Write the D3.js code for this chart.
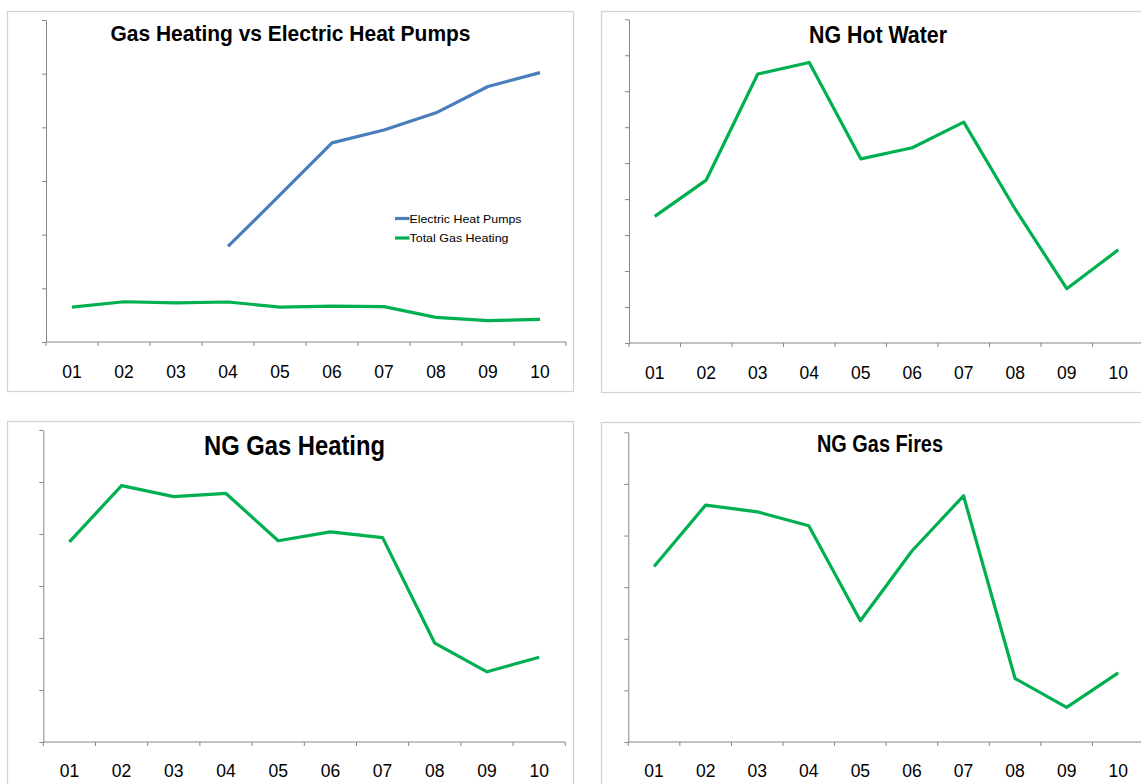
<!DOCTYPE html>
<html>
<head>
<meta charset="utf-8">
<script src="https://cdn.jsdelivr.net/npm/d3@7"></script>
<style>
  html, body { margin: 0; padding: 0; background: #ffffff; overflow: hidden; }
  svg { display: block; font-family: "Liberation Sans", Arial, Helvetica, sans-serif; }
</style>
</head>
<body>
<svg id="chart" width="1141" height="784"></svg>
<script>
// Category labels (years 2001–2010)
const years = ["01", "02", "03", "04", "05", "06", "07", "08", "09", "10"];

// Gas Heating vs Electric Heat Pumps (index units)
const heatPumps       = [null, null, null, 1.78, 2.74, 3.71, 3.95, 4.27, 4.76, 5.02];
const totalGasHeating = [0.65, 0.75, 0.73, 0.745, 0.65, 0.67, 0.66, 0.46, 0.40, 0.42];

// Natural gas end uses
const hotWater   = [3.52, 4.53, 7.48, 7.80, 5.12, 5.43, 6.14, 3.72, 1.51, 2.59];
const gasHeating = [3.85, 4.93, 4.72, 4.78, 3.87, 4.04, 3.93, 1.90, 1.35, 1.63];
const gasFires   = [3.40, 4.59, 4.46, 4.19, 2.35, 3.70, 4.77, 1.23, 0.67, 1.34];

// Legend entries for the first panel
const legendLabels = ["Electric Heat Pumps", "Total Gas Heating"];

const GREEN = "#00B050";
const BLUE = "#4A7EBB";
const AXIS = "#868686";
const FRAME = "#D4D4D4";

const svg = d3.select("#chart");

function drawPanel(cfg) {
  const g = svg.append("g");

  // chart area border
  g.append("rect")
    .attr("x", cfg.frame[0]).attr("y", cfg.frame[1])
    .attr("width", cfg.frame[2]).attr("height", cfg.frame[3])
    .attr("fill", "none").attr("stroke", FRAME).attr("stroke-width", 1.3);

  const x = d3.scaleBand().domain(years).range([cfg.left, cfg.right]).padding(0);
  const y = d3.scaleLinear().domain([0, cfg.yMax]).range([cfg.bottom, cfg.top]);

  // value axis: tick marks only
  const yAxis = g.append("g")
    .attr("transform", `translate(${cfg.left},0)`)
    .call(d3.axisLeft(y).tickValues(d3.range(0, cfg.yMax + 1)).tickSize(4).tickSizeOuter(0).tickFormat(""));
  yAxis.selectAll("path, line").attr("stroke", AXIS).attr("stroke-width", 1);

  // category axis: labels centred in each band
  const xAxis = g.append("g")
    .attr("transform", `translate(0,${cfg.bottom})`)
    .call(d3.axisBottom(x).tickSize(0).tickPadding(cfg.labelPad));
  xAxis.select(".domain").remove();
  xAxis.selectAll("text")
    .attr("fill", "#000")
    .style("font-size", "17.5px");

  // axis line plus tick marks between categories
  g.append("line")
    .attr("x1", cfg.left).attr("x2", cfg.right)
    .attr("y1", cfg.bottom).attr("y2", cfg.bottom)
    .attr("stroke", AXIS).attr("stroke-width", 1);
  g.selectAll(".cat-tick")
    .data(d3.range(years.length + 1))
    .join("line")
    .attr("x1", i => cfg.left + i * x.step())
    .attr("x2", i => cfg.left + i * x.step())
    .attr("y1", cfg.bottom).attr("y2", cfg.bottom + 4)
    .attr("stroke", AXIS).attr("stroke-width", 1);

  // series lines
  const line = d3.line()
    .defined(d => d.v !== null)
    .x(d => x(d.k) + x.bandwidth() / 2)
    .y(d => y(d.v));
  cfg.series.forEach(s => {
    g.append("path")
      .datum(years.map((k, i) => ({ k, v: s.values[i] })))
      .attr("d", line)
      .attr("fill", "none")
      .attr("stroke", s.color)
      .attr("stroke-width", 3.2)
      .attr("stroke-linejoin", "round");
  });

  // title
  g.append("text")
    .attr("x", cfg.title.x).attr("y", cfg.title.y)
    .attr("text-anchor", "middle")
    .attr("font-weight", "bold")
    .attr("font-size", cfg.title.size)
    .attr("textLength", cfg.title.len)
    .attr("lengthAdjust", "spacingAndGlyphs")
    .attr("fill", "#000")
    .text(cfg.title.text);

  return { g, x, y };
}

// Top left: gas heating against electric heat pumps
const p1 = drawPanel({
  frame: [7.5, 11.5, 566, 380],
  left: 46, right: 566, top: 20, bottom: 342, yMax: 6, labelPad: 23.5,
  series: [
    { values: heatPumps, color: BLUE },
    { values: totalGasHeating, color: GREEN }
  ],
  title: { text: "Gas Heating vs Electric Heat Pumps", x: 290.5, y: 40.5, size: 22, len: 360 }
});

// legend
const legend = p1.g.append("g");
[BLUE, GREEN].forEach((c, i) => {
  const ly = 218.5 + i * 19.5;
  legend.append("line")
    .attr("x1", 395).attr("x2", 409.5)
    .attr("y1", ly).attr("y2", ly)
    .attr("stroke", c).attr("stroke-width", 3.2);
  legend.append("text")
    .attr("x", 409.5).attr("y", ly + 4)
    .attr("font-size", 11.5)
    .attr("textLength", i === 0 ? 112 : 99)
    .attr("lengthAdjust", "spacingAndGlyphs")
    .attr("fill", "#000")
    .text(legendLabels[i]);
});

// Top right: hot water
drawPanel({
  frame: [601.5, 11.5, 600, 381],
  left: 629, right: 1144, top: 19.3, bottom: 343, yMax: 9, labelPad: 24,
  series: [{ values: hotWater, color: GREEN }],
  title: { text: "NG Hot Water", x: 878, y: 42.5, size: 24, len: 138 }
});

// Bottom left: gas heating
drawPanel({
  frame: [7.5, 421.5, 566, 400],
  left: 43.3, right: 565.3, top: 430, bottom: 742, yMax: 6, labelPad: 22.5,
  series: [{ values: gasHeating, color: GREEN }],
  title: { text: "NG Gas Heating", x: 294.5, y: 455, size: 27, len: 181 }
});

// Bottom right: gas fires
drawPanel({
  frame: [601.5, 422.5, 600, 400],
  left: 628.3, right: 1144, top: 432.3, bottom: 742, yMax: 6, labelPad: 22.5,
  series: [{ values: gasFires, color: GREEN }],
  title: { text: "NG Gas Fires", x: 880, y: 451.5, size: 23, len: 126 }
});
</script>
</body>
</html>
